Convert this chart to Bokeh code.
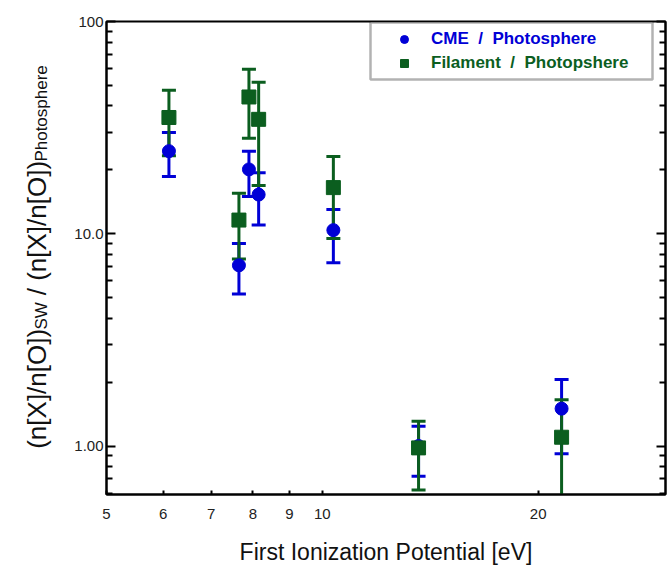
import math
from bokeh.plotting import figure
from bokeh.layouts import row
from bokeh.models import (ColumnDataSource, FixedTicker, CustomJSTickFormatter, LogAxis,
                          Legend, LegendItem, BoxAnnotation, Range1d)
from bokeh.core.properties import value
from bokeh.embed import file_html
from bokeh.resources import INLINE

# ---- data ----
elements = ["Ca", "Mg", "Fe", "Si", "S", "O", "Ne"]
fip = [6.11, 7.65, 7.90, 8.15, 10.36, 13.62, 21.56]

cme = [24.5, 7.1, 20.1, 15.3, 10.4, 1.0, 1.50]
cme_hi = [30.0, 9.0, 24.5, 19.4, 13.0, 1.24, 2.06]
cme_lo = [18.6, 5.2, 15.0, 11.0, 7.3, 0.72, 0.92]

fil = [35.3, 11.6, 44.1, 34.6, 16.5, 0.98, 1.10]
fil_hi = [47.4, 15.5, 59.5, 51.7, 23.1, 1.31, 1.65]
fil_lo = [23.3, 7.6, 28.2, 16.9, 9.5, 0.62, 0.30]

x_ticks = [5, 6, 7, 8, 9, 10, 20]
y_ticks = [1, 10, 100]
y_minor = [0.6, 0.7, 0.8, 0.9, 2, 3, 4, 5, 6, 7, 8, 9, 20, 30, 40, 50, 60, 70, 80, 90]

legend_labels = ["CME  /  Photosphere", "Filament  /  Photopshere"]
ylabel_parts = ["(n[X]/n[O])", "SW", "/ (n[X]/n[O])", "Photosphere"]
xlabel = "First Ionization Potential [eV]"

BLUE = "#0000d6"
GREEN = "#0b5e1f"
FONT = "Liberation Sans"

W, H = 667, 567
LAB_W = 60
TOP, BOTTOM = 21, 70
FRAME_BOTTOM = H - BOTTOM  # canvas y of the frame bottom

# ---- y-axis label panel (rotated text with subscripts) ----
pl = figure(width=LAB_W, height=H, x_range=Range1d(0, LAB_W),
            y_range=Range1d(0, H - TOP - BOTTOM),
            output_backend="svg", toolbar_location=None,
            min_border_left=0, min_border_right=0,
            min_border_top=TOP, min_border_bottom=BOTTOM)
pl.axis.visible = False
pl.grid.visible = False
pl.outline_line_color = None
pl.background_fill_color = "white"
pl.border_fill_color = "white"


def ytext(x, canvas_y, txt, size):
    pl.text(x=[x], y=[FRAME_BOTTOM - canvas_y], text=[txt], angle=math.pi / 2,
            text_align="left", text_baseline="alphabetic",
            text_font=value(FONT), text_font_size=size, text_color="#111111")


ytext(36, 451, ylabel_parts[0], "26px")
ytext(41, 331, ylabel_parts[1], "17px")
ytext(36, 296.5, ylabel_parts[2], "26px")
ytext(41, 162, ylabel_parts[3], "17px")

# ---- main plot ----
p = figure(width=W - LAB_W, height=H, x_axis_type="log", y_axis_type="log",
           x_range=Range1d(5, 30.1), y_range=Range1d(0.591, 100),
           output_backend="svg", toolbar_location=None,
           min_border_left=106 - LAB_W, min_border_right=2, min_border_top=TOP,
           min_border_bottom=BOTTOM)
p.grid.visible = False
p.outline_line_color = "black"
p.outline_line_width = 2
p.background_fill_color = "white"
p.border_fill_color = "white"

xa = p.xaxis[0]
xa.ticker = FixedTicker(ticks=x_ticks, minor_ticks=[])
xa.formatter = CustomJSTickFormatter(code="return tick.toFixed(0);")
xa.axis_line_width = 2
xa.major_tick_in = 4
xa.major_tick_out = 0
xa.major_tick_line_width = 2
xa.minor_tick_in = 0
xa.minor_tick_out = 0
xa.major_label_text_font = FONT
xa.major_label_text_font_size = "15px"
xa.major_label_text_color = "#222222"
xa.major_label_standoff = 14
xa.axis_label = xlabel
xa.axis_label_text_font = FONT
xa.axis_label_text_font_size = "23px"
xa.axis_label_text_font_style = "normal"
xa.axis_label_text_color = "#111111"
xa.axis_label_standoff = 17

ya = p.yaxis[0]
ya.ticker = FixedTicker(ticks=y_ticks, minor_ticks=y_minor)
ya.formatter = CustomJSTickFormatter(
    code="return tick >= 100 ? '100' : (tick >= 10 ? '10.0' : '1.00');")
ya.axis_line_width = 2
ya.major_tick_in = 9
ya.major_tick_out = 0
ya.minor_tick_in = 6
ya.minor_tick_out = 0
ya.major_tick_line_width = 2
ya.minor_tick_line_width = 2
ya.major_label_text_font = FONT
ya.major_label_text_font_size = "15px"
ya.major_label_text_color = "#222222"
ya.major_label_standoff = 3

ra = LogAxis(ticker=FixedTicker(ticks=y_ticks, minor_ticks=y_minor),
             formatter=CustomJSTickFormatter(code="return '';"))
ra.axis_line_width = 2
ra.major_tick_in = 9
ra.major_tick_out = 0
ra.minor_tick_in = 6
ra.minor_tick_out = 0
ra.major_tick_line_width = 2
ra.minor_tick_line_width = 2
ra.major_label_text_font_size = "0px"
ra.major_label_standoff = 0
p.add_layout(ra, "right")

src = ColumnDataSource(dict(x=fip, cme=cme, cme_hi=cme_hi, cme_lo=cme_lo,
                            fil=fil, fil_hi=fil_hi, fil_lo=fil_lo))

p.segment(x0="x", y0="cme_lo", x1="x", y1="cme_hi", source=src, line_color=BLUE, line_width=3)
p.scatter(x="x", y="cme_hi", source=src, marker="dash", size=14, line_color=BLUE, line_width=3)
p.scatter(x="x", y="cme_lo", source=src, marker="dash", size=14, line_color=BLUE, line_width=3)
p.segment(x0="x", y0="fil_lo", x1="x", y1="fil_hi", source=src, line_color=GREEN, line_width=3)
p.scatter(x="x", y="fil_hi", source=src, marker="dash", size=14, line_color=GREEN, line_width=3)
p.scatter(x="x", y="fil_lo", source=src, marker="dash", size=14, line_color=GREEN, line_width=3)

r_cme = p.scatter(x="x", y="cme", source=src, marker="circle", size=13,
                  fill_color=BLUE, line_color=BLUE)
r_fil = p.scatter(x="x", y="fil", source=src, marker="square", size=14,
                  fill_color=GREEN, line_color=GREEN)

box = BoxAnnotation(left=264, right=546, top=472, bottom=415,
                    left_units="screen", right_units="screen",
                    top_units="screen", bottom_units="screen",
                    fill_color="white", fill_alpha=1.0, line_color="black", line_width=2.5)
p.add_layout(box)


def make_legend(label, rend, color, loc):
    lg = Legend(items=[LegendItem(label=label, renderers=[rend])], location=loc,
                border_line_color=None, background_fill_alpha=0.0,
                padding=0, margin=0, glyph_width=54, glyph_height=20,
                label_height=20, label_standoff=0, spacing=0,
                label_text_font=FONT, label_text_font_style="bold",
                label_text_font_size="17px", label_text_color=color)
    p.add_layout(lg)


make_legend(legend_labels[0], r_cme, BLUE, (271, 445))
make_legend(legend_labels[1], r_fil, GREEN, (271, 421))

layout = row(pl, p)
open("out.html", "w").write(file_html(layout, INLINE))
